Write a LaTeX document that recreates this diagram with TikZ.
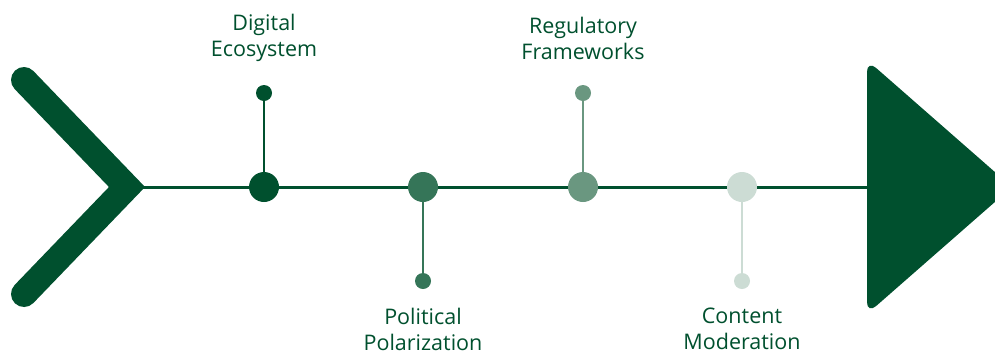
\documentclass[tikz,border=0pt]{standalone}
\usepackage{fontspec}
\setmainfont{Open Sans}
\definecolor{gA}{HTML}{00502E}
\definecolor{gB}{HTML}{357558}
\definecolor{gC}{HTML}{6A9780}
\definecolor{gD}{HTML}{CCDCD4}
\begin{document}
\begin{tikzpicture}[x=1pt,y=-1pt,
  bigdot/.style={circle,inner sep=0pt,minimum size=30pt},
  smalldot/.style={circle,inner sep=0pt,minimum size=16pt},
  stem/.style={line width=2pt},
  lbl/.style={font=\fontsize{21.5}{26}\selectfont,text=gA,align=center,inner sep=0pt}]
\useasboundingbox (0,0) rectangle (995,354);
\begin{scope}
\clip (0,0) rectangle (995,354);
% left chevron
\draw[gA,line width=26pt,line cap=round,line join=miter] (24,80) -- (127,187) -- (24,294);
% right arrow head
\fill[gA,rounded corners=12pt] (867,60) -- (1012,187) -- (867,314) -- cycle;
\end{scope}
\coordinate (L) at (140,187);
\coordinate (R) at (870,187);
\draw[gA,line width=3pt] (L) -- (R);
% nodes
\foreach \i/\x/\c/\s in {1/264/gA/-1,2/423/gB/1,3/583/gC/-1,4/742/gD/1}{
  \node[smalldot,fill=\c] (s\i) at (\x,{187+\s*94}) {};
  \draw[stem,\c] (s\i) -- (\x,187);
  \node[bigdot,fill=\c] (b\i) at (\x,187) {};
}
\node[lbl] (t1) at (264,38) {Digital\\Ecosystem};
\node[lbl] (t2) at (423,329) {Political\\Polarization};
\node[lbl] (t3) at (583,38) {Regulatory\\Frameworks};
\node[lbl] (t4) at (742,329) {Content\\Moderation};
\end{tikzpicture}
\end{document}
